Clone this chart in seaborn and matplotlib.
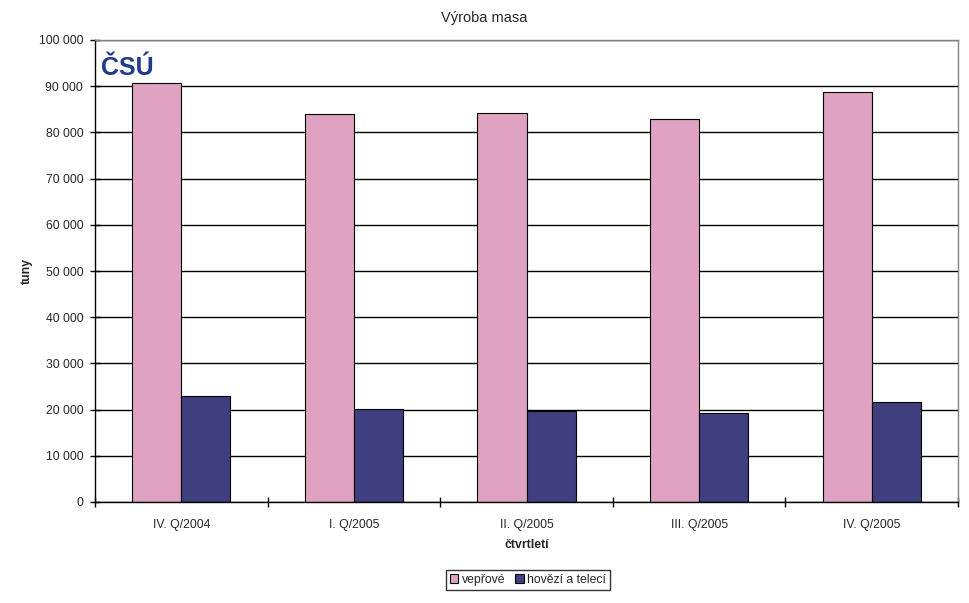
import matplotlib
matplotlib.use("Agg")
import matplotlib.pyplot as plt
import pandas as pd
import seaborn as sns
from matplotlib.ticker import FuncFormatter, MultipleLocator, FixedLocator

quarters = ["IV. Q/2004", "I. Q/2005", "II. Q/2005", "III. Q/2005", "IV. Q/2005"]
series_names = ["vepřové", "hovězí a telecí"]
pork = [90800, 84000, 84200, 82800, 88700]
beef = [22900, 20100, 19700, 19200, 21600]
colors = ["#DFA2C2", "#3F3F7F"]

df = pd.DataFrame({
    "quarter": quarters * 2,
    "series": [series_names[0]] * len(quarters) + [series_names[1]] * len(quarters),
    "value": pork + beef,
})

sns.set_style("white")
plt.rcParams["font.family"] = ["Liberation Sans", "DejaVu Sans"]

fig = plt.figure(figsize=(9.69, 6.03), dpi=100)
ax = fig.add_axes([95 / 969, 101 / 603, 863 / 969, 462 / 603])

sns.barplot(
    data=df, x="quarter", y="value", hue="series", order=quarters,
    hue_order=series_names, palette=colors, width=0.57, dodge=True,
    edgecolor="black", linewidth=0.8, saturation=1, ax=ax, legend=True,
)

ax.set_ylim(0, 100000)
ax.set_xlim(-0.5, len(quarters) - 0.5)
ax.yaxis.set_major_locator(MultipleLocator(10000))
ax.yaxis.set_major_formatter(FuncFormatter(lambda v, p: f"{int(v):,}".replace(",", " ")))
ax.grid(axis="y", color="black", linewidth=1)
ax.set_axisbelow(True)

for side in ["top", "right"]:
    ax.spines[side].set_color("#808080")
for side in ["left", "bottom"]:
    ax.spines[side].set_color("black")
for spine in ax.spines.values():
    spine.set_linewidth(1)

ax.tick_params(axis="y", direction="inout", length=7, width=1, color="black", labelsize=8.8, pad=5, left=True)
ax.tick_params(axis="x", which="major", length=0, labelsize=8.8, pad=12)
ax.xaxis.set_minor_locator(FixedLocator([i - 0.5 for i in range(len(quarters) + 1)]))
ax.tick_params(axis="x", which="minor", direction="inout", length=7, width=1, color="black", bottom=True)

ax.set_xlabel("čtvrtletí", fontsize=8.8, fontweight="bold", labelpad=6)
ax.set_ylabel("tuny", fontsize=8.8, fontweight="bold", labelpad=4)
fig.text(0.5, 1 - 18 / 603, "Výroba masa", ha="center", va="center", fontsize=10.5)

ax.text(0.007, 0.965, "ČSÚ", transform=ax.transAxes, ha="left", va="top",
        fontsize=18, fontweight="heavy", color="#1F3C8C")

handles, labels = ax.get_legend_handles_labels()
ax.get_legend().remove()
leg = fig.legend(
    handles, labels, loc="center", bbox_to_anchor=(528 / 969, 1 - 580 / 603),
    ncol=2, frameon=True, fontsize=8.8, handlelength=0.7, handleheight=0.7,
    handletextpad=0.3, columnspacing=0.8, borderpad=0.3, fancybox=False,
)
leg.get_frame().set_edgecolor("black")
leg.get_frame().set_linewidth(1)

fig.savefig("out.png", dpi=100)
